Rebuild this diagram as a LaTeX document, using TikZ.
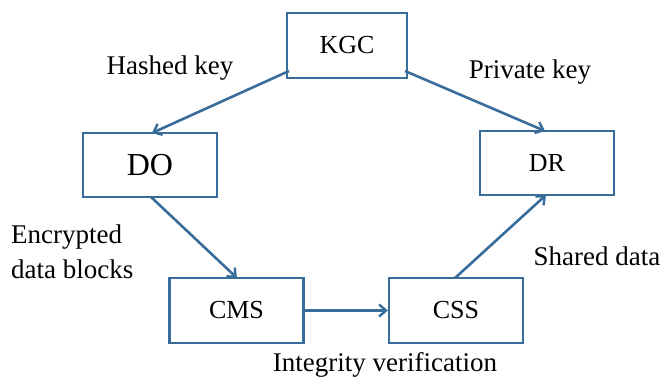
\documentclass[tikz,border=0pt]{standalone}
\usepackage{fontspec}
\setmainfont{Liberation Serif}
\usetikzlibrary{arrows.meta}
\definecolor{boxblue}{RGB}{56,108,154}
\begin{document}
\begin{tikzpicture}[x=1pt,y=-1pt,
  ent/.style={draw=boxblue,line width=2.2pt,fill=white,minimum width=134pt,minimum height=64pt,inner sep=0pt,font=\fontsize{26}{30}\selectfont},
  conn/.style={draw=boxblue,line width=2.6pt,-{Straight Barb[length=7pt,width=12pt,line width=2.4pt]}},
  lbl/.style={font=\fontsize{27}{32}\selectfont,inner sep=0pt}]
\useasboundingbox (0,0) rectangle (662,381);
\node[ent,minimum width=120pt,minimum height=65pt] (kgc) at (347,45.5) {KGC};
\node[ent,font=\fontsize{32}{36}\selectfont] (do) at (150,165) {DO};
\node[ent] (dr) at (547,163) {DR};
\node[ent,minimum height=65pt] (cms) at (236.5,310.5) {CMS};
\node[ent,minimum height=65pt] (css) at (456,310.5) {CSS};
\coordinate (kgcl) at (289,71);
\coordinate (kgcr) at (405,71);
\coordinate (dot) at (152,133);
\coordinate (drt) at (545,131);
\coordinate (dob) at (151,197);
\coordinate (cmst) at (237,278);
\coordinate (csst) at (455,278);
\coordinate (drb) at (546,195);
\draw[conn] (kgcl) -- (dot);
\draw[conn] (kgcr) -- (drt);
\draw[conn] (dob) -- (cmst);
\draw[conn] (cms.east) -- (css.west);
\draw[conn] (csst) -- (drb);
\node[lbl] (l1) at (170,68) {Hashed key};
\node[lbl] (l2) at (530,72) {Private key};
\node[lbl,align=left,anchor=west,font=\fontsize{27}{35}\selectfont] (l3) at (11,252) {Encrypted\\data blocks};
\node[lbl] (l4) at (597,256) {Shared data};
\node[lbl] (l5) at (385,365) {Integrity verification};
\end{tikzpicture}
\end{document}
